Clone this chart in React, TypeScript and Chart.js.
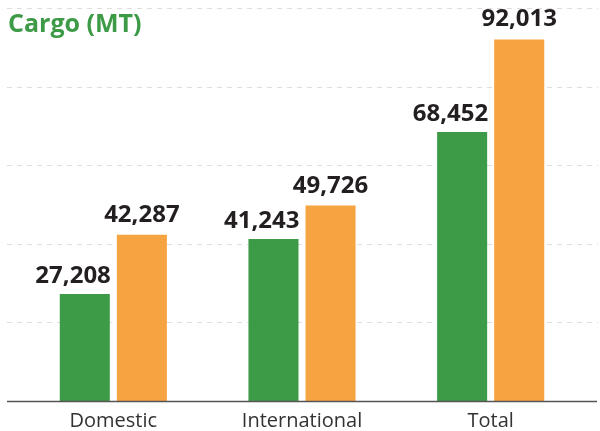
import React, { useEffect, useRef } from "react";
import { Chart, registerables } from "chart.js";

Chart.register(...registerables);

const categories = ["Domestic", "International", "Total"];
const seriesA = [27208, 41243, 68452];
const seriesB = [42287, 49726, 92013];
const titleText = "Cargo (MT)";
const gridValues = [20000, 40000, 60000, 80000, 100000];

const GREEN = "#3d9b47";
const ORANGE = "#f6a441";
const FONT = "'Open Sans', Lato, sans-serif";

const decor = {
  id: "decor",
  beforeDatasetsDraw(chart: any) {
    const ctx = chart.ctx;
    const y = chart.scales.y;
    ctx.save();
    ctx.strokeStyle = "#dedede";
    ctx.lineWidth = 1;
    ctx.setLineDash([5, 5]);
    for (const v of gridValues) {
      const py = Math.round(y.getPixelForValue(v)) + 0.5;
      ctx.beginPath();
      ctx.moveTo(7, py);
      ctx.lineTo(598, py);
      ctx.stroke();
    }
    ctx.restore();
  },
  afterDatasetsDraw(chart: any) {
    const ctx = chart.ctx;
    const y = chart.scales.y;
    ctx.save();
    const by = Math.round(y.getPixelForValue(0)) + 0.5;
    ctx.strokeStyle = "#555";
    ctx.lineWidth = 1.5;
    ctx.beginPath();
    ctx.moveTo(7, by);
    ctx.lineTo(597, by);
    ctx.stroke();

    ctx.font = `bold 24px ${FONT}`;
    ctx.fillStyle = "#231f20";
    ctx.textBaseline = "alphabetic";
    chart.data.datasets.forEach((ds: any, di: number) => {
      const meta = chart.getDatasetMeta(di);
      meta.data.forEach((bar: any, i: number) => {
        const text = Number(ds.data[i]).toLocaleString("en-US");
        if (di === 0) {
          ctx.textAlign = "right";
          ctx.fillText(text, bar.x + bar.width / 2 + 1, bar.y - 11);
        } else {
          ctx.textAlign = "center";
          ctx.fillText(text, bar.x, bar.y - 13);
        }
      });
    });

    ctx.font = `bold 25px ${FONT}`;
    ctx.fillStyle = GREEN;
    ctx.textAlign = "left";
    ctx.fillText(titleText, 8, 32);
    ctx.restore();
  },
};

export default function App() {
  const ref = useRef<HTMLCanvasElement>(null);
  useEffect(() => {
    if (!ref.current) return;
    const chart = new Chart(ref.current, {
      type: "bar",
      data: {
        labels: categories,
        datasets: [
          { data: seriesA, backgroundColor: GREEN, categoryPercentage: 0.605, barPercentage: 0.877 },
          { data: seriesB, backgroundColor: ORANGE, categoryPercentage: 0.605, barPercentage: 0.877 },
        ],
      },
      options: {
        animation: false,
        responsive: true,
        maintainAspectRatio: false,
        layout: { padding: { left: 19, right: 15, top: 8, bottom: -10 } },
        plugins: { legend: { display: false }, tooltip: { enabled: false }, title: { display: false } },
        scales: {
          x: {
            grid: { display: false, drawTicks: false },
            border: { display: false },
            ticks: { color: "#333", font: { family: FONT, size: 20, lineHeight: 1 }, padding: 10 },
          },
          y: { display: false, min: 0, max: 100000 },
        },
      },
      plugins: [decor],
    } as any);
    return () => chart.destroy();
  }, []);
  return (
    <div style={{ position: "fixed", left: 0, top: 0, width: 600, height: 431, background: "#fff" }}>
      <canvas ref={ref} />
    </div>
  );
}
